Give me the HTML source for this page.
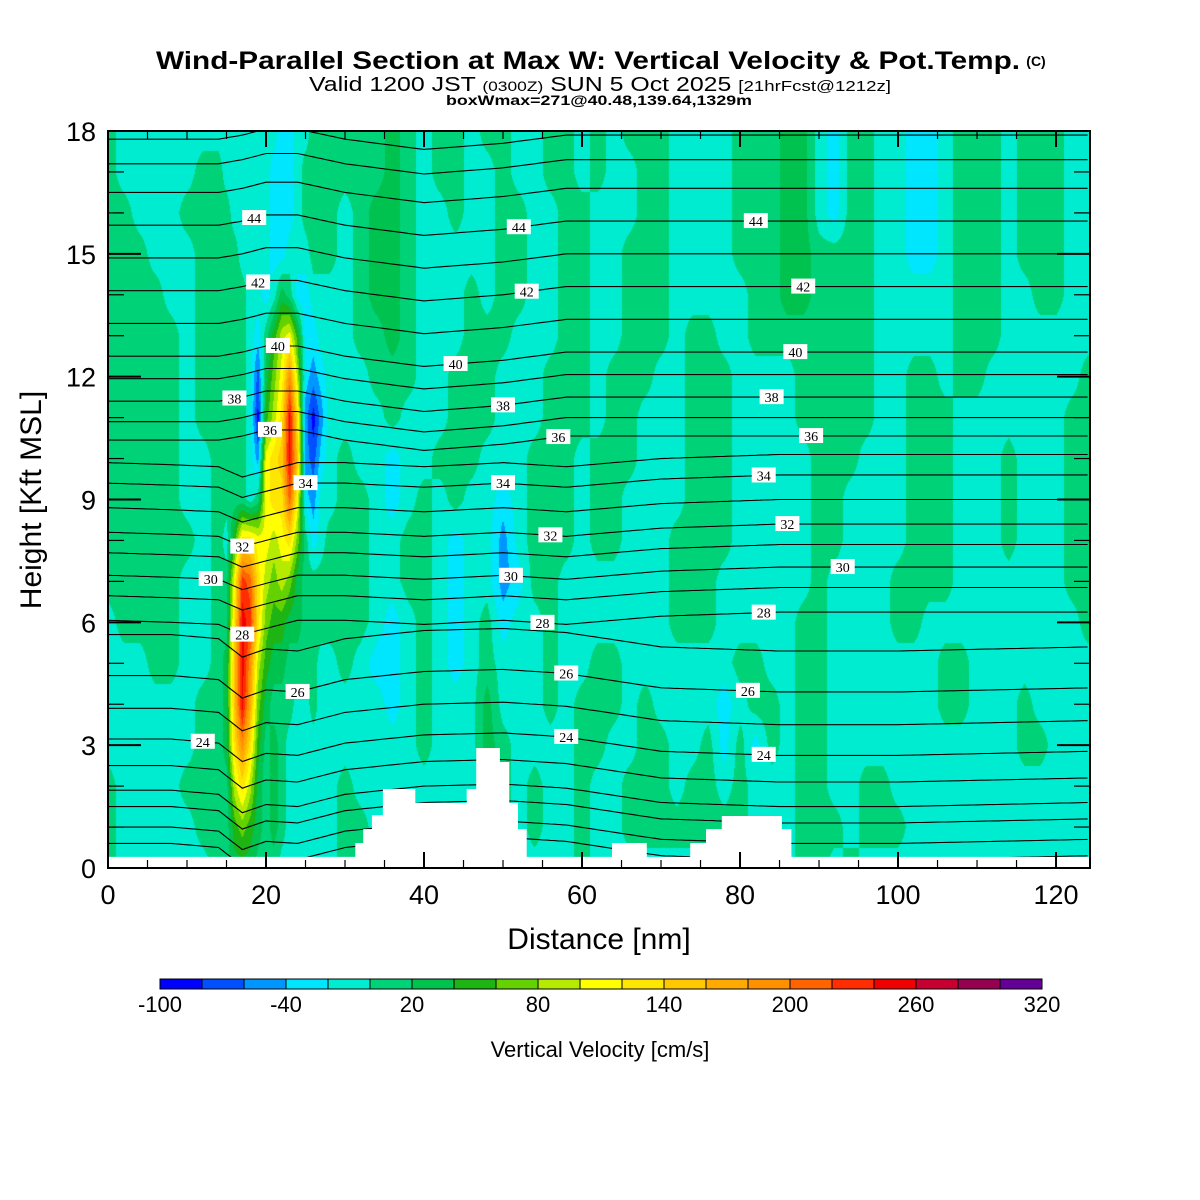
<!DOCTYPE html>
<html><head><meta charset="utf-8"><style>
body{margin:0;background:#fff;width:1200px;height:1200px;position:relative;overflow:hidden;font-family:"Liberation Sans",sans-serif}
#field{position:absolute;left:108px;top:131px}
#ov{position:absolute;left:0;top:0}
</style></head><body>
<canvas id="field" width="982" height="737"></canvas>
<svg id="ov" width="1200" height="1200" xmlns="http://www.w3.org/2000/svg">
<g id="contours"></g>
<g id="terrain"></g>
<g id="labels"></g>
<rect x="108" y="131" width="982" height="737" fill="none" stroke="#000" stroke-width="2"/>
<g id="axes"></g>
<text x="588" y="69" text-anchor="middle" font-size="25" font-weight="bold" textLength="864" lengthAdjust="spacingAndGlyphs">Wind-Parallel Section at Max W: Vertical Velocity &amp; Pot.Temp.</text>
<text x="1036" y="66" text-anchor="middle" font-size="14" font-weight="bold">(C)</text>
<text x="600" y="91" text-anchor="middle" font-size="20" textLength="582" lengthAdjust="spacingAndGlyphs">Valid 1200 JST <tspan font-size="14">(0300Z)</tspan> SUN 5 Oct 2025 <tspan font-size="15">[21hrFcst@1212z]</tspan></text>
<text x="599" y="105" text-anchor="middle" font-size="14" font-weight="bold" textLength="306" lengthAdjust="spacingAndGlyphs">boxWmax=271@40.48,139.64,1329m</text>
<text x="599" y="949" text-anchor="middle" font-size="30">Distance [nm]</text>
<text transform="translate(41,500) rotate(-90)" text-anchor="middle" font-size="30">Height [Kft MSL]</text>
<g id="cbar"></g>
<text x="600" y="1057" text-anchor="middle" font-size="22">Vertical Velocity [cm/s]</text>
</svg>
<script>
// ---- data ----
const colorLevels = [-100,-80,-60,-40,-20,0,20,40,60,80,100,120,140,160,180,200,220,240,260,280,300,320];
const binColors = ["#0000ff","#0050ff","#0096ff","#00e6ff","#00ecd0","#00d278","#00c24e","#1eb414","#64d200","#b4eb00","#ffff00","#ffe600","#ffc800","#ffaa00","#ff9100","#ff6400","#ff2d00","#f00000","#c80032","#960050","#640096"];
const cbarTicks = [-100,-40,20,80,140,200,260,320];
const xTickLabels = [0,20,40,60,80,100,120];
const yTickLabels = [0,3,6,9,12,15,18];
// grid node positions (nm) – segments A,B,C,D
const gridXA = [0,2,4,6,8,10,12,14];
const gridXB = [15,16,17,18,19,20,21,22,23,24,25,26,27,28];
const gridXC = [30,32,34,36,38,40,42,44,46,48,50,52,54,56,58,60];
const gridXD = [62,64,66,68,70,72,74,76,78,80,82,84,86,88,90,92,94,96,98,100,102,104,106,108,110,112,114,116,118,120,122,124];
const gridZ = [18,17,16,15,14,13,12,11,10,9,8,7,6,5,4,3,2,1,0];
// bin codes (base 21), row per gridZ
const wA = ["54444444","54444455","55444555","55544455","55554455","55555455","55555455","55555455","55555445","55555445","55555545","55555445","45555445","44455445","44444455","44444455","54444555","54444455","54444445"];
const wB = ["44444443344555","44444433345555","54444433345555","55444433444555","55544346533444","55543579a73344","5554168ae93234","5554079bhb2024","55542abchc2134","55545abbfa3244","47bbaa9ab85345","5agfb989865555","5bhgb877665555","6che9766555544","6chd8655544544","6beb7565444444","59b96565444444","57876565444444","56665554444444"];
const wC = ["5556545545544554","5556545544544554","4566544544554455","4566544444554455","4566544454554455","4556544455544455","4455544555444555","4445444555444555","5443445554445554","5543454544345554","5544554344245554","5544554344235544","5543454345344544","5433454345444544","4443454446444545","4444454446544445","5444444445545445","5544444444545445","5444444444444445"];
const wD = ["54555444455566435544334555455544","54455444455566435544334555455544","44455444455566435544334555455544","44555444455566555544334555455544","44555444445566555544444555445544","44555455445555555544444555444444","45554455544445555544554554444445","45544455544445555544555444444455","55544455544444555444555444544455","55444455544444554444555444544455","55444555544444554444555444544455","44444555444444544445555444444455","44444555444445544445544444444445","55444444455445544444445544444444","55454444345545544444445544454444","54455445353545544444444444455444","44555455454445544554444444444444","44555555554445554555444444444444","44444444444445545444444444444444"];
// potential temperature contours
const thetaLevels = [19,20,21,22,23,24,25,26,27,28,29,30,31,32,33,34,35,36,37,38,39,40,41,42,43,44,45,46,47];
const thetaBaseKft = [0.2,0.6,1.1,1.5,2.1,2.75,3.5,4.3,5.3,6.25,6.85,7.35,7.9,8.4,9.0,9.6,10.1,10.55,11.0,11.5,12.05,12.6,13.4,14.2,15.0,15.8,16.6,17.3,17.9];
const offsetX = [0,8,14,17,20,24,30,40,50,58,70,85,100,124.3];
const lowOff = [0.4,0.4,0.3,-0.15,0.05,0.0,0.3,0.5,0.55,0.45,0.1,0.0,0.0,0.1];
const midOff = [-0.2,-0.25,-0.3,-0.55,-0.4,-0.2,-0.2,-0.3,-0.2,-0.3,-0.1,0,0,0];
const upOff = [-0.1,-0.1,-0.1,0,0.15,0.15,-0.1,-0.35,-0.2,0,0,0,0,0];
const labelTheta = [44,42,40,38,36,34,32,30,28,26,24,44,42,40,38,36,34,32,30,28,26,24,44,42,40,38,36,34,32,30,28,26,24];
const labelX = [18.5,19,21.5,16,20.5,25,17,13,17,24,12,52,53,44,50,57,50,56,51,55,58,58,82,88,87,84,89,83,86,93,83,81,83];
// terrain
const terrainEdges = [0,31.3,32.3,33.4,34.8,38.9,45.4,46.6,49.6,50.8,51.9,53.0,63.8,68.2,73.7,75.7,77.7,85.3,86.5,124.3];
const terrainKft = [0.27,0.61,0.95,1.29,1.93,1.59,1.93,2.93,2.59,1.59,0.95,0.27,0.61,0.27,0.61,0.95,1.27,0.95,0.27];

// ---- scales ----
const X0=108,X1=1090,Y0=868,Y1=131,XMAX=124.3,ZMAX=18;
const xs = v => X0 + v*(X1-X0)/XMAX;
const ys = v => Y0 - v*(Y0-Y1)/ZMAX;
const NS="http://www.w3.org/2000/svg";
function mk(tag, attrs, parent){const e=document.createElementNS(NS,tag);for(const k in attrs)e.setAttribute(k,attrs[k]);parent.appendChild(e);return e;}
function interp(xarr, yarr, x){ if(x<=xarr[0])return yarr[0]; for(let i=1;i<xarr.length;i++){ if(x<=xarr[i]){const t=(x-xarr[i-1])/(xarr[i]-xarr[i-1]);return yarr[i-1]+t*(yarr[i]-yarr[i-1]);}} return yarr[yarr.length-1];}

// ---- field ----
const gridX = gridXA.concat(gridXB, gridXC, gridXD);
const grid = gridZ.map((z,r)=>{
  let s = wA[r]+wB[r]+wC[r]+wD[r];
  const row=[];
  for(let i=0;i<gridX.length;i++){ const c = s[i]||'4'; const idx=parseInt(c,21); row.push((colorLevels[idx]+colorLevels[idx+1])/2); }
  return row;
});
(function(){
  const cv=document.getElementById('field'),ctx=cv.getContext('2d');
  const W=cv.width,H=cv.height,img=ctx.createImageData(W,H);
  const rgb=binColors.map(h=>[parseInt(h.substr(1,2),16),parseInt(h.substr(3,2),16),parseInt(h.substr(5,2),16)]);
  const colI=[],colT=[];
  for(let px=0;px<W;px++){ const x=(px+0.5)*XMAX/W; let i=0; while(i<gridX.length-2 && gridX[i+1]<x)i++; colI.push(i); colT.push(Math.max(0,Math.min(1,(x-gridX[i])/(gridX[i+1]-gridX[i])))); }
  for(let py=0;py<H;py++){
    const z=ZMAX-(py+0.5)*ZMAX/H; let r=Math.floor(ZMAX-z); if(r>=gridZ.length-1)r=gridZ.length-2; const tz=(gridZ[r]-z)/(gridZ[r]-gridZ[r+1]);
    const ra=grid[r],rb=grid[r+1];
    for(let px=0;px<W;px++){
      const i=colI[px],t=colT[px];
      const a=ra[i]+(ra[i+1]-ra[i])*t, b=rb[i]+(rb[i+1]-rb[i])*t;
      const v=a+(b-a)*tz;
      let bin=Math.floor((v-colorLevels[0])/20); bin=Math.max(0,Math.min(binColors.length-1,bin));
      const c=rgb[bin],o=(py*W+px)*4; img.data[o]=c[0];img.data[o+1]=c[1];img.data[o+2]=c[2];img.data[o+3]=255;
    }
  }
  ctx.putImageData(img,0,0);
})();

// ---- contours ----
function thetaHeight(k, x){
  const th=thetaLevels[k]; const off = th<=27?lowOff:(th<=35?midOff:upOff);
  return thetaBaseKft[k]+interp(offsetX, off, x);
}
const cg=document.getElementById('contours');
thetaLevels.forEach((th,k)=>{
  let d=''; for(let x=0;x<=XMAX+0.01;x+=0.5){ const z=Math.min(ZMAX,Math.max(0,thetaHeight(k,x))); d+=(x===0?'M':'L')+xs(Math.min(x,XMAX)).toFixed(1)+','+ys(z).toFixed(1); }
  const p=mk('path',{d:d,fill:'none',stroke:'#000','stroke-width':'1.1'},cg);
  
  
});
// ---- terrain ----
(function(){
  const tg=document.getElementById('terrain');
  let d='M'+xs(0)+','+ys(0);
  for(let i=0;i<terrainKft.length;i++){ d+='L'+xs(terrainEdges[i]).toFixed(1)+','+ys(terrainKft[i]).toFixed(1)+'L'+xs(terrainEdges[i+1]).toFixed(1)+','+ys(terrainKft[i]).toFixed(1); }
  d+='L'+xs(XMAX)+','+ys(0)+'Z';
  const p=mk('path',{d:d,fill:'#fff',stroke:'none'},tg);
  
  
})();
// ---- labels ----
(function(){
  const lg=document.getElementById('labels');
  labelTheta.forEach((th,i)=>{
    const k=thetaLevels.indexOf(th); const x=labelX[i]; const z=thetaHeight(k,x);
    const cx=xs(x),cy=ys(z);
    const g=mk('g',{},lg);
    
    
    mk('rect',{x:cx-12,y:cy-8,width:24,height:15,fill:'#fff'},g);
    const t=mk('text',{x:cx,y:cy+5,'text-anchor':'middle','font-size':'14','font-family':'"Liberation Serif",serif'},g);
    t.textContent=th;
  });
})();
// ---- axes ----
(function(){
  const ag=document.getElementById('axes');
  for(let v=0;v<=XMAX;v+=5){
    const major=(v%20===0), L=major?16:8;
    mk('line',{x1:xs(v),x2:xs(v),y1:Y0,y2:Y0-L,stroke:'#000','stroke-width':major?2:1.2},ag);
    mk('line',{x1:xs(v),x2:xs(v),y1:Y1,y2:Y1+L,stroke:'#000','stroke-width':major?2:1.2},ag);
  }
  xTickLabels.forEach(v=>{ const t=mk('text',{x:xs(v),y:904,'text-anchor':'middle','font-size':'27'},ag);   t.textContent=v; });
  for(let v=0;v<=ZMAX;v+=1){
    const major=(v%3===0), L=major?33:16;
    mk('line',{x1:X0,x2:X0+L,y1:ys(v),y2:ys(v),stroke:'#000','stroke-width':major?2:1.2},ag);
    mk('line',{x1:X1,x2:X1-L,y1:ys(v),y2:ys(v),stroke:'#000','stroke-width':major?2:1.2},ag);
  }
  yTickLabels.forEach(v=>{ const t=mk('text',{x:96,y:ys(v)+10,'text-anchor':'end','font-size':'27'},ag);   t.textContent=v; });
})();
// ---- colorbar ----
(function(){
  const g=document.getElementById('cbar'); const cx0=160,cx1=1042,n=binColors.length,w=(cx1-cx0)/n;
  const cs=v=>cx0+(v-colorLevels[0])/(colorLevels[colorLevels.length-1]-colorLevels[0])*(cx1-cx0);
  binColors.forEach((c,i)=>{ const r=mk('rect',{x:cs(colorLevels[i]),y:979,width:w,height:10,fill:c,stroke:'#000','stroke-width':'1'},g);   });
  cbarTicks.forEach(v=>{ const t=mk('text',{x:cs(v),y:1012,'text-anchor':'middle','font-size':'22'},g);   t.textContent=v; });
})();
</script>
</body></html>
